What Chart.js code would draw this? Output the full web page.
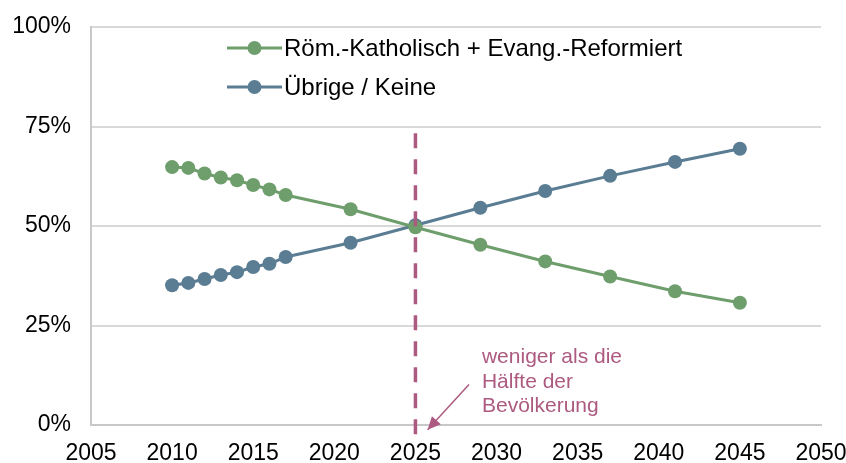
<!DOCTYPE html>
<html>
<head>
<meta charset="utf-8">
<script src="https://cdn.jsdelivr.net/npm/chart.js@4.4.0/dist/chart.umd.min.js"></script>
<style>
  html, body { margin: 0; padding: 0; background: #fff; }
  #wrap { width: 846px; height: 463px; position: relative; }
</style>
</head>
<body>
<div id="wrap"><canvas id="chart1"></canvas></div>
<script>
// data
var years = [2010, 2011, 2012, 2013, 2014, 2015, 2016, 2017, 2021, 2025, 2029, 2033, 2037, 2041, 2045];
var katholischReformiert = [64.8, 64.6, 63.2, 62.2, 61.5, 60.3, 59.2, 57.8, 54.2, 49.7, 45.3, 41.1, 37.3, 33.6, 30.7];
var uebrigeKeine = [35.1, 35.7, 36.7, 37.7, 38.4, 39.7, 40.5, 42.2, 45.8, 50.2, 54.6, 58.8, 62.6, 66.1, 69.4];
var seriesNames = ['Röm.-Katholisch + Evang.-Reformiert', 'Übrige / Keine'];
var xTickYears = [2005, 2010, 2015, 2020, 2025, 2030, 2035, 2040, 2045, 2050];
var yTickValues = [0, 25, 50, 75, 100];
var markYear = 2025;
var noteLines = ['weniger als die', 'Hälfte der', 'Bevölkerung'];

var green = '#6f9e6d';
var blue = '#5a7d93';
var mauve = '#ad5a80';
var font = '"Liberation Sans", Arial, sans-serif';

function pts(vals) {
    return years.map(function (y, i) { return { x: y, y: vals[i] }; });
}

// legend inside the plot + dashed marker + note, drawn on top
var extras = {
    id: 'extras',
    afterDatasetsDraw: function (chart) {
        var c = chart.ctx, xs = chart.scales.x, ys = chart.scales.y;
        c.save();

        // dashed line at 2025
        var mx = xs.getPixelForValue(markYear);
        c.strokeStyle = mauve;
        c.lineWidth = 3.5;
        c.setLineDash([15, 11]);
        c.beginPath();
        c.moveTo(mx, ys.getPixelForValue(73.3));
        c.lineTo(mx, chart.chartArea.bottom + 13);
        c.stroke();
        c.setLineDash([]);

        // arrow
        var ax0 = xs.getPixelForValue(2028.3), ay0 = ys.getPixelForValue(10.2);
        var ax1 = xs.getPixelForValue(2025.75), ay1 = ys.getPixelForValue(-1.2);
        c.lineWidth = 1.5;
        c.beginPath();
        c.moveTo(ax0, ay0);
        c.lineTo(ax1, ay1);
        c.stroke();
        var ang = Math.atan2(ay1 - ay0, ax1 - ax0);
        c.fillStyle = mauve;
        c.beginPath();
        c.moveTo(ax1, ay1);
        c.lineTo(ax1 - 13 * Math.cos(ang) + 6 * Math.sin(ang), ay1 - 13 * Math.sin(ang) - 6 * Math.cos(ang));
        c.lineTo(ax1 - 13 * Math.cos(ang) - 6 * Math.sin(ang), ay1 - 13 * Math.sin(ang) + 6 * Math.cos(ang));
        c.closePath();
        c.fill();

        // note text
        c.font = '21px ' + font;
        c.textBaseline = 'middle';
        c.textAlign = 'left';
        var tx = xs.getPixelForValue(2029.1);
        noteLines.forEach(function (t, i) {
            c.fillText(t, tx, ys.getPixelForValue(17) + i * 24.5);
        });

        // legend
        c.font = '24px ' + font;
        chart.data.datasets.forEach(function (ds, i) {
            var ly = 48 + i * 39;
            c.strokeStyle = ds.borderColor;
            c.lineWidth = 3;
            c.beginPath();
            c.moveTo(227, ly);
            c.lineTo(282, ly);
            c.stroke();
            c.fillStyle = ds.borderColor;
            c.beginPath();
            c.arc(254.5, ly, 7, 0, Math.PI * 2);
            c.fill();
            c.fillStyle = '#000';
            c.fillText(ds.label, 284, ly + 1);
        });
        c.restore();
    }
};

var ctx = document.getElementById('chart1');
var myChart = new Chart(ctx, {
    type: 'line',
    data: {
        datasets: [{
            label: seriesNames[0],
            data: pts(katholischReformiert),
            borderColor: green,
            backgroundColor: green,
            borderWidth: 3,
            pointRadius: 7,
            pointBorderWidth: 0,
            fill: false
        }, {
            label: seriesNames[1],
            data: pts(uebrigeKeine),
            borderColor: blue,
            backgroundColor: blue,
            borderWidth: 3,
            pointRadius: 7,
            pointBorderWidth: 0,
            fill: false
        }]
    },
    options: {
        responsive: true,
        maintainAspectRatio: false,
        animation: false,
        layout: { padding: { top: 27, right: 25, left: 0, bottom: 0 } },
        plugins: {
            legend: { display: false },
            tooltip: { enabled: false }
        },
        scales: {
            x: {
                type: 'linear',
                min: 2005,
                max: 2050,
                afterBuildTicks: function (s) { s.ticks = xTickYears.map(function (v) { return { value: v }; }); },
                afterFit: function (s) { s.height = 38; s.paddingLeft = 0; s.paddingRight = 0; },
                grid: { display: false, drawTicks: false },
                border: { display: true, color: '#c8c8c8', width: 2 },
                ticks: {
                    color: '#000', padding: 15, maxRotation: 0,
                    font: { family: font, size: 23 },
                    callback: function (v) { return String(v); }
                }
            },
            y: {
                min: 0,
                max: 100,
                afterBuildTicks: function (s) { s.ticks = yTickValues.map(function (v) { return { value: v }; }); },
                afterFit: function (s) { s.width = 91; s.paddingTop = 0; s.paddingBottom = 0; },
                grid: { color: '#d9d9d9', lineWidth: 2, drawTicks: false },
                border: { display: true, color: '#c8c8c8', width: 2 },
                ticks: {
                    color: '#000', padding: 20,
                    font: { family: font, size: 23 },
                    callback: function (v) { return v + '%'; }
                }
            }
        }
    },
    plugins: [extras]
});
</script>
</body>
</html>
